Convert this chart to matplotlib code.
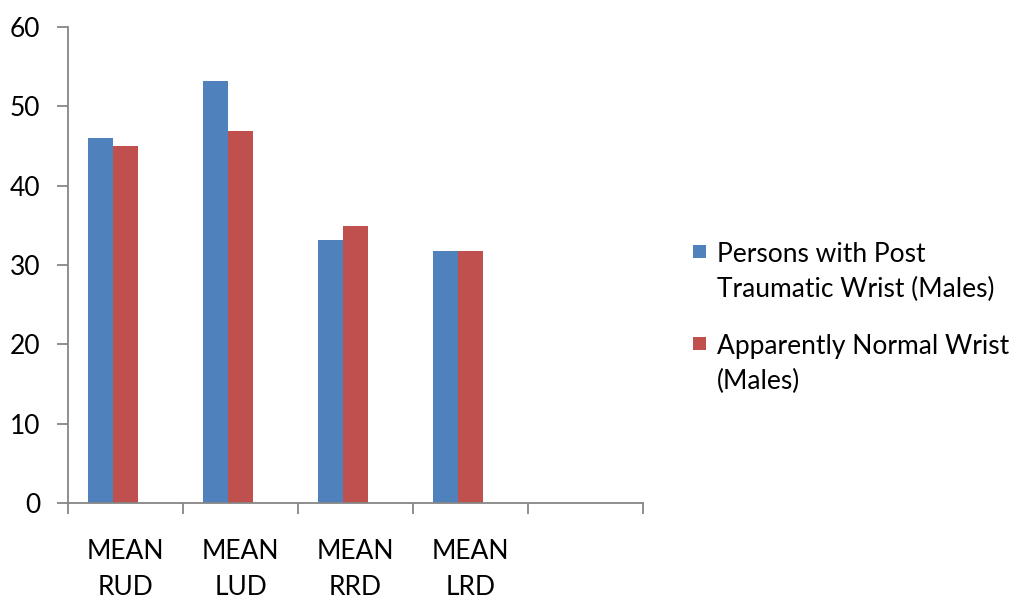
import numpy as np
import matplotlib.pyplot as plt
from matplotlib.patches import Rectangle
from matplotlib.ticker import FixedLocator, NullFormatter

plt.rcParams['font.family'] = ['Lato', 'DejaVu Sans']

# categories (the fifth slot is empty in the original chart)
categories = ['MEAN\nRUD', 'MEAN\nLUD', 'MEAN\nRRD', 'MEAN\nLRD', '']
post_traumatic = [46.0, 53.2, 33.1, 31.8]
normal_wrist = [45.0, 46.9, 34.9, 31.8]
series_names = ['Persons with Post\nTraumatic Wrist (Males)',
                'Apparently Normal Wrist\n(Males)']

BLUE = '#4F81BD'
RED = '#C0504D'
AXCOL = '#868686'
FS = 19
W, H = 1020, 601

fig = plt.figure(figsize=(W / 100, H / 100), dpi=100)
ax = fig.add_axes([0.0667, 0.1625, 0.5637, 0.7931])

x = np.arange(len(categories))
w = 0.217
# excel layout: third (empty) series slot shifts the pair to the left
n = len(post_traumatic)
ax.bar(x[:n] - w, post_traumatic, w, color=BLUE)
ax.bar(x[:n], normal_wrist, w, color=RED)

ax.set_xlim(-0.5, len(categories) - 0.5)
ax.set_ylim(0, 60)
ax.set_yticks(np.arange(0, 61, 10))

# ticks at category boundaries, labels at centres
ax.xaxis.set_major_locator(FixedLocator(np.arange(-0.5, len(categories), 1.0)))
ax.xaxis.set_major_formatter(NullFormatter())
ax.xaxis.set_minor_locator(FixedLocator(x))
ax.set_xticklabels(categories, minor=True)
ax.tick_params(axis='x', which='minor', length=0, pad=26, labelsize=FS)
ax.tick_params(axis='x', which='major', length=8, width=1.3, color=AXCOL)
ax.tick_params(axis='y', length=8, width=1.3, color=AXCOL, pad=12, labelsize=FS)
for lbl in ax.get_xticklabels(minor=True):
  lbl.set_linespacing(1.55)

for s in ['top', 'right']:
  ax.spines[s].set_visible(False)
for s in ['left', 'bottom']:
  ax.spines[s].set_color(AXCOL)
  ax.spines[s].set_linewidth(1.3)

# excel-style legend: square next to the first line of each entry
entry_top = [245, 337]   # pixel rows from the top
line_gap = 35
for name, col, top in zip(series_names, [BLUE, RED], entry_top):
  fig.add_artist(Rectangle((693 / W, 1 - (top + 13) / H), 13 / W, 13 / H,
                           transform=fig.transFigure, facecolor=col, edgecolor='none'))
  for i, line in enumerate(name.split('\n')):
    fig.text(717 / W, 1 - (top + 17 + i * line_gap) / H, line, fontsize=FS,
             va='baseline', ha='left')

fig.savefig('out.png', dpi=100)
